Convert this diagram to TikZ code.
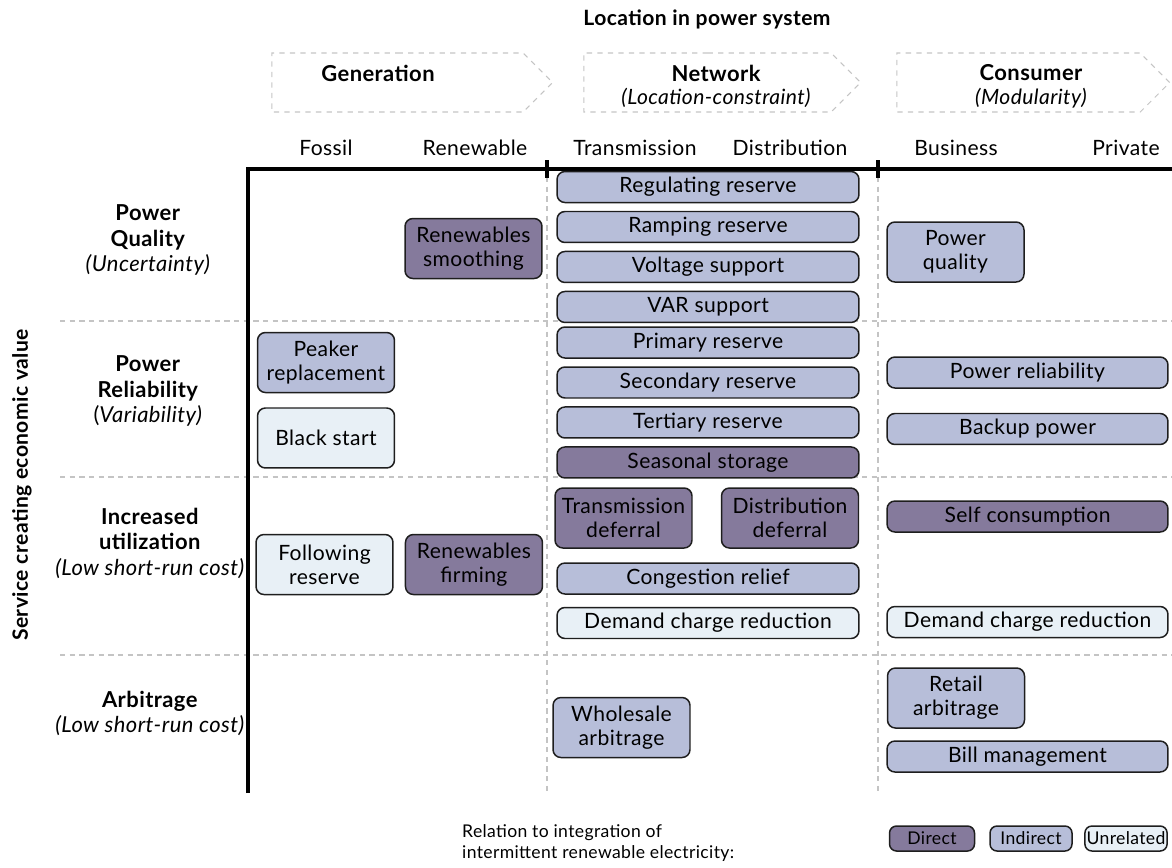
\documentclass[tikz,border=0pt]{standalone}
\usepackage{fontspec}
\setmainfont{Lato}[LetterSpace=2]
\usepackage{tikz}
\usetikzlibrary{positioning, shapes.symbols}
\definecolor{directfill}{HTML}{857A9C}
\definecolor{indirectfill}{HTML}{B7BED9}
\definecolor{unrelatedfill}{HTML}{E8F0F6}
\definecolor{gridgrey}{HTML}{C4C4C4}
\definecolor{boxline}{HTML}{1E1E1E}

\begin{document}
\begin{tikzpicture}[
    x=0.02cm, y=-0.02cm,
    node distance=0.15cm and 0.22cm,
    service/.style={
        rectangle, draw=boxline, line width=0.85pt, rounded corners=4.5pt,
        align=center, inner sep=2pt, minimum height=0.62cm,
        font=\fontsize{12}{13.8}\selectfont
    },
    direct/.style={service, fill=directfill},
    indirect/.style={service, fill=indirectfill},
    unrelated/.style={service, fill=unrelatedfill},
    widebox/.style={minimum width=6.04cm},
    consumerbox/.style={minimum width=5.62cm},
    twoline/.style={minimum width=2.74cm, minimum height=1.2cm},
    stage/.style={
        signal, signal to=east, signal pointer angle=90, draw=gridgrey, dashed,
        line width=0.6pt, minimum height=1.18cm, inner sep=0pt
    },
    stagename/.style={font=\fontsize{12.5}{14}\selectfont\bfseries},
    stagenote/.style={font=\fontsize{12}{13}\selectfont\itshape},
    colname/.style={font=\fontsize{12}{13}\selectfont},
    rowname/.style={align=center, font=\fontsize{12.5}{14.5}\selectfont},
    sepline/.style={draw=gridgrey, dash pattern=on 3pt off 2.5pt, line width=0.6pt},
    axisline/.style={line width=2pt},
    legendbox/.style={minimum height=0.5cm, inner xsep=1pt, rounded corners=4pt, font=\fontsize{10}{12}\selectfont}
]
\useasboundingbox (0,0) rectangle (1172,867);

% Title and location stages
\node[font=\fontsize{12}{13}\selectfont\bfseries] (loctitle) at (707,19) {Location in power system};

\node[stage, minimum width=5.62cm] (gen) at (397.5,82.5) {};
\node[stage, minimum width=5.54cm] (net) at (707.5,82.5) {};
\node[stage, minimum width=5.46cm] (cons) at (1018.5,82.5) {};
\node[stagename] (genname) at (378,73) {Generation};
\node[stagename] (netname) at (716,73) {Network};
\node[stagenote] (netnote) at (716,98) {(Location-constraint)};
\node[stagename] (consname) at (1031,73) {Consumer};
\node[stagenote] (consnote) at (1031,98) {(Modularity)};

% Column headers
\node[colname] (fossil) at (326,148) {Fossil};
\node[colname] (renew) at (475,148) {Renewable};
\node[colname] (trans) at (635,148) {Transmission};
\node[colname] (distr) at (790,148) {Distribution};
\node[colname] (business) at (956,148) {Business};
\node[colname] (private) at (1126,148) {Private};

% Grid lines
\draw[sepline] (547,177) -- (547,793);
\draw[sepline] (878,177) -- (878,793);
\draw[sepline] (60,321) -- (1172,321);
\draw[sepline] (60,477) -- (1172,477);
\draw[sepline] (60,655) -- (1172,655);

% Axes
\draw[axisline] (248,793) -- (248,169) -- (1172,169);
\draw[axisline] (547,160) -- (547,178);
\draw[axisline] (878,160) -- (878,178);

% Row headers
\node[rotate=90, font=\fontsize{12}{14}\selectfont\bfseries] (service) at (22,485) {Service creating economic value};
\node[rowname] (quality) at (148,240) {\textbf{Power}\\\textbf{Quality}\\\textit{(Uncertainty)}};
\node[rowname] (reliab) at (148,391) {\textbf{Power}\\\textbf{Reliability}\\(\textit{Variability)}};
\node[rowname] (util) at (150,543) {\textbf{Increased}\\\textbf{utilization}\\\textit{(Low short-run cost)}};
\node[rowname] (arbit) at (150,713.5) {\textbf{Arbitrage}\\\textit{(Low short-run cost)}};

% Generation services
\node[direct, twoline] (smoothing) at (473.5,248.5) {Renewables\\smoothing};
\node[indirect, twoline] (peaker) at (326,362.5) {Peaker\\replacement};
\node[unrelated, twoline, below=0.28cm of peaker] (blackstart) {Black start};
\node[unrelated, twoline] (following) at (324.5,564.5) {Following\\reserve};
\node[direct, twoline, right=of following] (firming) {Renewables\\firming};

% Network services
\node[indirect, widebox] (regulating) at (708,187) {Regulating reserve};
\node[indirect, widebox, below=of regulating] (ramping) {Ramping reserve};
\node[indirect, widebox, below=of ramping] (voltage) {Voltage support};
\node[indirect, widebox, below=of voltage] (var) {VAR support};
\node[indirect, widebox] (primary) at (708,342.5) {Primary reserve};
\node[indirect, widebox, below=of primary] (secondary) {Secondary reserve};
\node[indirect, widebox, below=of secondary] (tertiary) {Tertiary reserve};
\node[direct, widebox, below=of tertiary] (seasonal) {Seasonal storage};
\node[direct, twoline] (transdef) at (623.5,518) {Transmission\\deferral};
\node[direct, twoline] (distdef) at (790,518) {Distribution\\deferral};
\node[indirect, widebox] (congestion) at (708,578.5) {Congestion relief};
\node[unrelated, widebox, below=0.24cm of congestion] (demandnet) {Demand charge reduction};
\node[indirect, twoline] (wholesale) at (621.5,727.5) {Wholesale\\arbitrage};

% Consumer services
\node[indirect, twoline] (pquality) at (955.5,252) {Power\\quality};
\node[indirect, consumerbox] (preliab) at (1027.5,372.5) {Power reliability};
\node[indirect, consumerbox, below=0.48cm of preliab] (backup) {Backup power};
\node[direct, consumerbox] (selfcons) at (1027.5,516.5) {Self consumption};
\node[unrelated, consumerbox] (demandcons) at (1027.5,622) {Demand charge reduction};
\node[indirect, twoline] (retail) at (956,698) {Retail\\arbitrage};
\node[indirect, consumerbox] (bill) at (1027.5,756.5) {Bill management};

% Legend
\node[align=left, anchor=west, font=\fontsize{10}{11.5}\selectfont] (legendtext) at (456,843)
    {Relation to integration of\\intermittent renewable electricity:};
\node[direct, legendbox, minimum width=1.7cm] (legdirect) at (932,838.5) {Direct};
\node[indirect, legendbox, minimum width=1.64cm] (legindirect) at (1031,838.5) {Indirect};
\node[unrelated, legendbox, minimum width=1.56cm] (legunrelated) at (1126,838.5) {Unrelated};

\end{tikzpicture}
\end{document}
